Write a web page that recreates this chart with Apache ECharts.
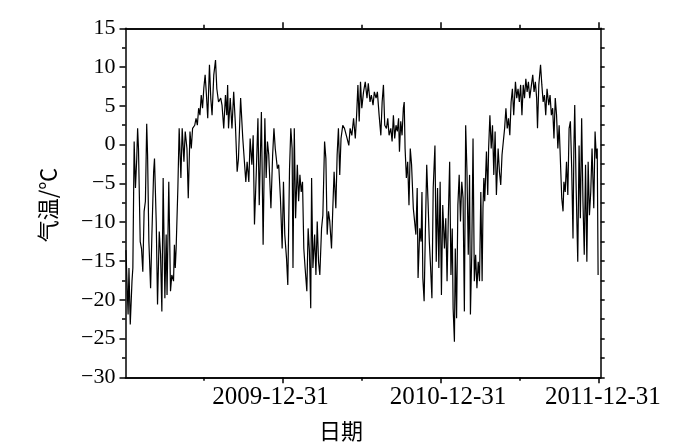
<!DOCTYPE html>
<html>
<head>
<meta charset="utf-8">
<script src="https://cdn.jsdelivr.net/npm/echarts@6/dist/echarts.min.js"></script>
<style>html,body{margin:0;padding:0;background:#fff}#chart{width:700px;height:448px}</style>
</head>
<body>
<div id="chart"></div>
<script>
// days since 2009-01-01
const days2009 = [1,6,8,11,15,17,20,23,26,28,30,34,37,40,43,46,49,51,54,58,61,65,67,71,74,78,81,84,87,91,94,96,100,104,107,111,113,115,117,121,124,128,131,135,138,142,145,149,152,155,160,163,166,169,172,175,178,181,184,187,190,194,197,200,204,208,211,215,220,223,227,231,234,236,238,242,246,250,254,258,261,266,271];
const temps2009 = [-13.6,-21.9,-15.9,-23.2,-17.6,-15.9,0.4,-5.6,-1.8,2.1,-0.5,-12.5,-13.4,-16.4,-8.6,-7.3,2.7,-1.3,-12.5,-18.5,-11.6,-3.5,-1.8,-9.9,-20.6,-11.2,-14.2,-21.5,-4.3,-19.8,-11.6,-19.4,-4.8,-18.9,-16.8,-17.6,-12.9,-15.9,-13.4,-5.6,2.1,-4.3,2.1,-2.2,1.7,-0.5,-6.9,1.7,-0.5,2.1,2.5,3.4,2.5,4.7,3.8,6.4,4.7,7.3,9,6.4,3.4,10.3,6,3.8,9,10.9,7.2,5.5,6,5.1,2.1,6.4,3.8,7.7,2.1,6,2.1,6.8,2.5,-3.5,-1.8,6,0.8];
const days2010a = [273,278,281,285,288,292,295,298,302,306,309,314,318,322,325,328,331,336,340,343,346,351,354,358,362,365,368,372,375,379,382,385,387,390,393,397,400,403,406,409,412,415,419,422,425,428,430,433,437,440,443,446,449,453,456,460,463,466,469,472,476,479,482,486,489,492,495,498,502,506,509,512,516,519,523,527,531,534,537,540,543];
const temps2010a = [0.8,-4.8,-2.2,-4.8,0.8,-2.6,1.2,-10.3,-3.9,3.4,-7.8,4.2,-12.9,3.4,-4.3,0.4,-1.3,-8.2,-1.3,2.1,-0.5,-3.1,-2.6,-6.9,-13.4,-4.8,-11.6,-14.6,-18.1,-3.1,2.1,-0.5,-15.9,2.1,-9.5,-2.6,-7.3,-3.9,-6.1,-4.8,-13.4,-15.9,-18.9,-10.8,-13.8,-21.1,-4.3,-15.9,-11.6,-16.8,-9.9,-15.1,-16.8,-10.8,-9.1,0.4,-1.8,-11.6,-8.6,-9.9,-13.4,-8.2,-3.5,-8.2,-1.3,2.1,-3.9,0.8,2.5,2.1,2.1,0.8,-0.1,2.1,1.2,3.4,0.8,3.8,7.7,3,8.1];
const days2010b = [546,550,554,558,561,565,568,572,575,579,582,586,590,593,596,599,603,606,609,613,616,619,622,625,628,631,633,636,639,642,644,646,649,652,655,658,661,665,668,671,674,676,680,683,685,687,690,693,696,699,702,705,708,711,715,718,721,724,727,730,733,737,740,743,746,749,752,755,757,760,762,765,768,771,774,777,780,783,786,789,792,795,797,800,803,806,809,812,815,818,821];
const temps2010b = [4.7,6.8,8.1,6,7.9,5.5,6.4,5.1,6.8,6,6.8,3.8,1.2,5.5,7.7,2.5,2.1,3.4,1.2,2.1,0.4,3.8,0.8,2.5,1.7,3.4,-0.9,3,1.2,4.7,5.5,-0.5,-4.3,-2.2,-7.8,-0.5,-2.6,-8.2,-9.9,-11.6,-5.6,-17.2,-10.8,-12.5,-6.1,-17.2,-20.2,-10.8,-2.6,-7.3,-12.5,-15.9,-19.8,-5.6,-0.1,-15.1,-5.6,-15.9,-4.8,-19.4,-7.8,-13.4,-9.5,-17.6,-9.1,-2.2,-16.8,-10.8,-21.1,-25.4,-13.4,-22.4,-7.8,-3.9,-9.9,-4.8,-6.9,-21.5,2.5,-3.5,-14.2,-3.9,-21.9,-14.2,0.8,-17.6,-14.2,-18.5,-15.1,-17.6,-6.1];
const days2011 = [824,826,828,830,834,837,839,842,845,848,851,854,857,861,864,867,870,873,876,879,882,885,888,891,894,897,901,904,907,910,913,916,919,922,925,928,931,934,938,941,944,947,950,952,955,959,962,965,968,971,974,978,981,984,987,990,993,996,999,1002,1005,1008,1011,1013,1016,1019,1022,1025,1028,1031,1034,1036,1038,1041,1045,1048,1051,1054,1057,1060,1063,1066,1069,1072,1075,1078,1082,1085,1088,1090,1092];
const temps2011 = [-17.6,-8.2,-4.3,-7.3,-0.9,-6.5,-0.5,3.8,-0.5,2.5,-3.9,1.7,-6.5,-0.5,-3.5,-5.2,-1.3,0.4,2.1,4.7,2.1,3.4,1.2,5.5,7.2,3.8,8.1,6,7.2,5.5,7.7,3.8,7.7,6,8.5,6.8,8.1,6,7.7,9,6.8,8.1,6,2.1,7.7,10.3,7.7,5.5,6.4,3.8,7.2,5.1,6.4,3.8,4.7,0.8,6,3.8,-0.5,2.5,-2.2,-6.9,-8.6,-4.8,-6.1,-2.2,-6.5,2.1,3,-3.1,-12.1,-0.5,5.1,-4.8,-15.1,-0.1,-9.5,3.4,-7.3,-14.2,-2.6,-15.1,-2.2,-9.1,-6.1,-0.5,-8.2,1.7,-1.8,-0.5,-16.8];

const tickDays = [364, 729, 1094];
const tickLabels = ['2009-12-31', '2010-12-31', '2011-12-31'];
const majorTickDays = [-1, 364, 729, 1094];
const minorTickDays = [181, 546, 911];
const xName = '日期';
const yName = '气温/℃';

const allDays = days2009.concat(days2010a, days2010b, days2011);
const allTemps = temps2009.concat(temps2010a, temps2010b, temps2011);
const seriesData = [];
for (let i = 0; i < Math.min(allDays.length, allTemps.length); i++) seriesData.push([allDays[i], allTemps[i]]);

const serif = 'Liberation Serif';
const black = '#000';
const xMin = 0, xMax = 1098;
// label placement nudges (style only): the original tool's labels sit slightly off their ticks
const labelStyles = ['l0', 'l1', 'l2'];
const labelRich = {
  l0: { fontFamily: serif, fontSize: 25, color: black, padding: [0, 25, 0, 0] },
  l1: { fontFamily: serif, fontSize: 25, color: black, padding: [0, 0, 0, 14] },
  l2: { fontFamily: serif, fontSize: 25, color: black, padding: [0, 0, 0, 8] }
};

function xAxisDef(pos, ticks, len, withLabel) {
  return {
    type: 'value', position: pos, min: xMin, max: xMax,
    axisLine: { show: true, onZero: false, lineStyle: { color: black, width: 1.5 } },
    axisTick: { show: true, inside: false, length: len, customValues: ticks, lineStyle: { color: black, width: 1.5 } },
    axisLabel: withLabel ? {
      show: true, customValues: tickDays, margin: 8,
      fontFamily: serif, fontSize: 25, color: black, rich: labelRich,
      formatter: v => { const k = tickDays.indexOf(Math.round(v)); return k >= 0 ? '{' + labelStyles[k] + '|' + tickLabels[k] + '}' : ''; }
    } : { show: false },
    splitLine: { show: false }
  };
}

const chart = echarts.init(document.getElementById('chart'), null, { renderer: 'canvas' });
chart.setOption({
  animation: false,
  backgroundColor: '#fff',
  grid: { left: 125.5, right: 99.3, top: 28.3, bottom: 70.7, containLabel: false },
  xAxis: [
    xAxisDef('bottom', majorTickDays, 6, true),
    xAxisDef('bottom', minorTickDays, 3.5, false),
    xAxisDef('top', majorTickDays, 6, false),
    xAxisDef('top', minorTickDays, 3.5, false)
  ],
  yAxis: [
    {
      type: 'value', position: 'left', min: -30, max: 15, interval: 5,
      axisLine: { show: true, onZero: false, lineStyle: { color: black, width: 1.5 } },
      axisTick: { show: true, length: 6, lineStyle: { color: black, width: 1.5 } },
      minorTick: { show: true, splitNumber: 2, length: 3.5, lineStyle: { color: black, width: 1.5 } },
      axisLabel: { fontFamily: serif, fontSize: 22, color: black, margin: 10,
        formatter: v => String(v).replace('-', '\u2212') },
      splitLine: { show: false }, minorSplitLine: { show: false }
    },
    {
      type: 'value', position: 'right', min: -30, max: 15, interval: 2.5,
      axisLine: { show: true, onZero: false, lineStyle: { color: black, width: 1.5 } },
      axisTick: { show: true, length: 4, lineStyle: { color: black, width: 1.5 } },
      axisLabel: { show: false },
      splitLine: { show: false }
    }
  ],
  graphic: [
    { type: 'text', x: 341, y: 431, style: { text: xName, font: '22px "Noto Sans CJK SC"', fill: black, textAlign: 'center', textVerticalAlign: 'middle' } },
    { type: 'text', x: 48, y: 205, rotation: Math.PI / 2, style: { text: yName, font: '22px "Noto Sans CJK SC"', fill: black, textAlign: 'center', textVerticalAlign: 'middle' } }
  ],
  series: [{
    type: 'line', xAxisIndex: 0, yAxisIndex: 0, data: seriesData,
    showSymbol: false, symbol: 'none',
    lineStyle: { color: black, width: 1.2 }
  }]
});
</script>
</body>
</html>
